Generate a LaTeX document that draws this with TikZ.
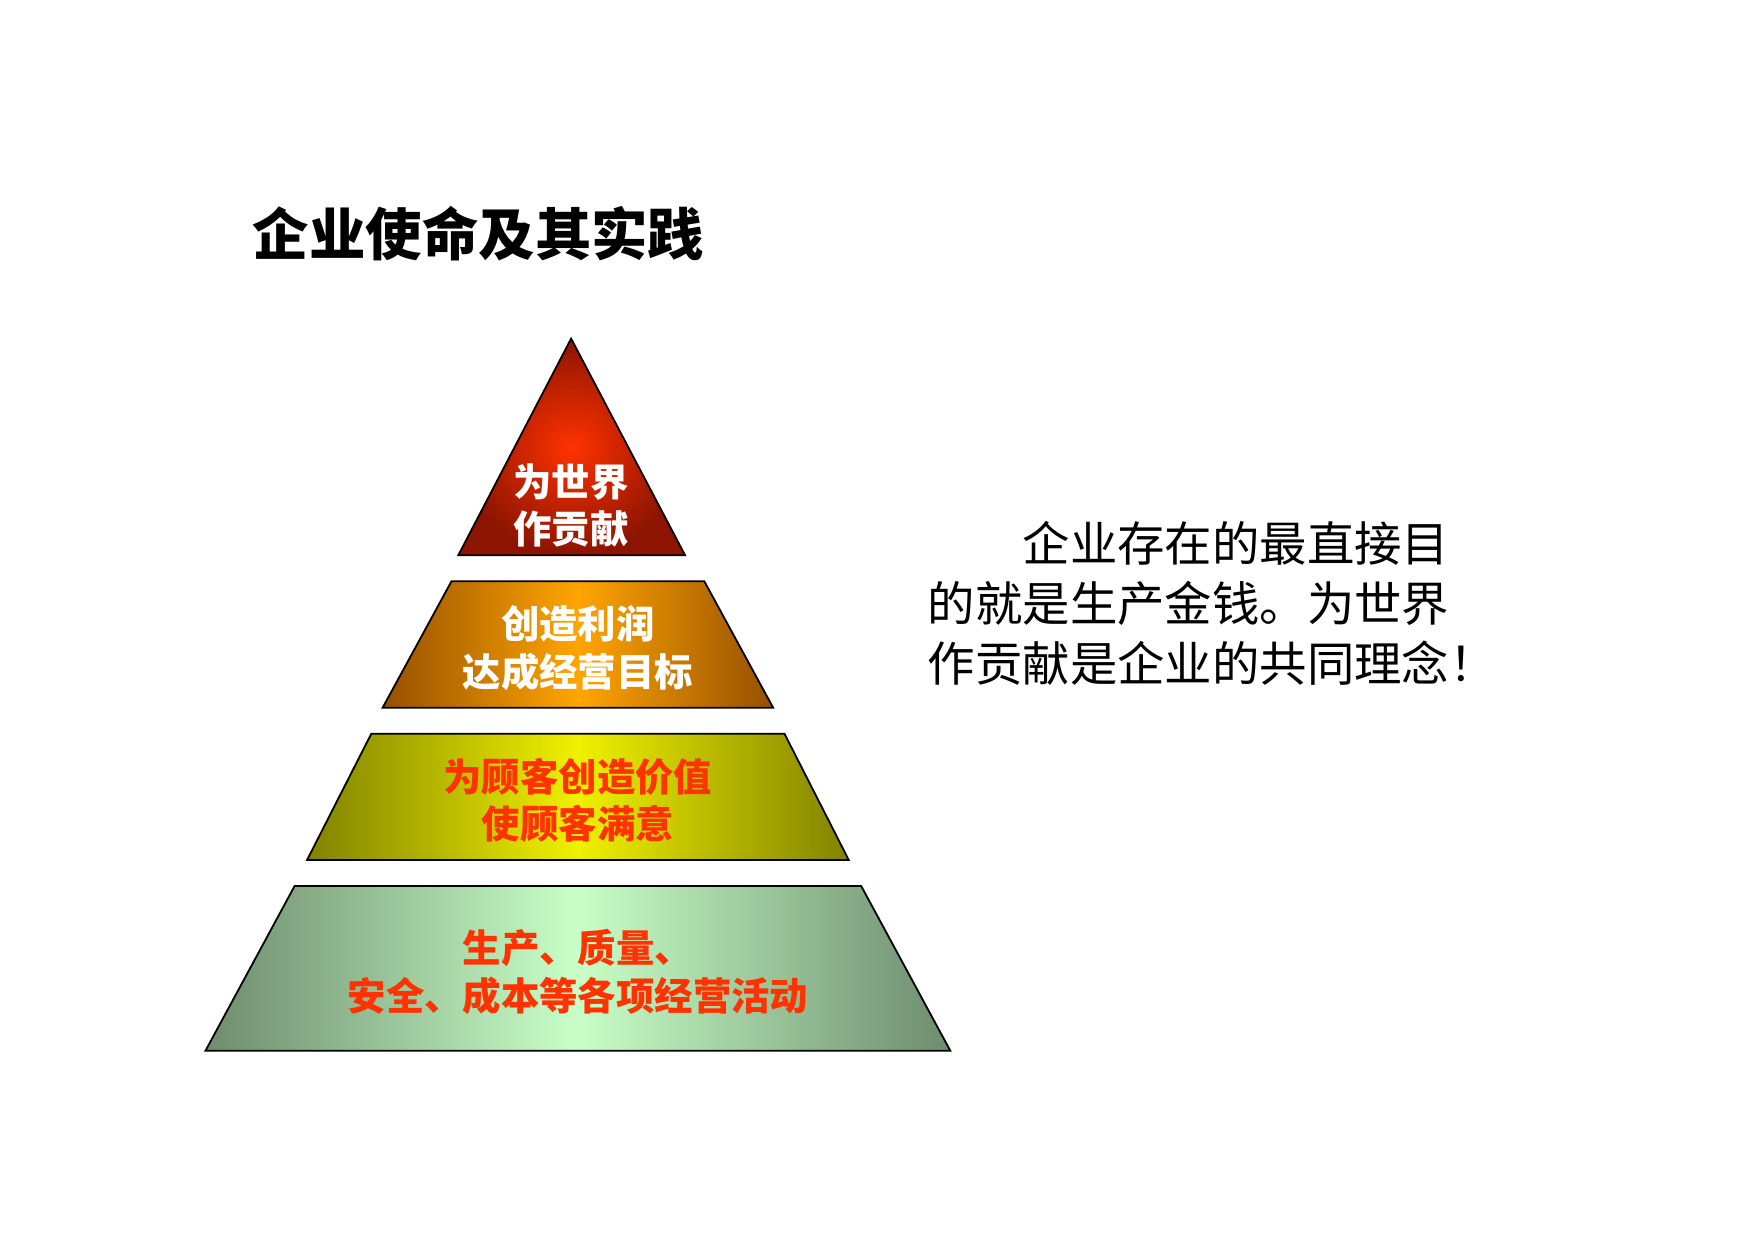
\documentclass[tikz,border=0pt]{standalone}
\usepackage{fontspec}
\newfontfamily\cjk{Noto Sans CJK SC}
\begin{document}
\begin{tikzpicture}[x=0.5pt,y=-0.5pt,
  tier/.style={draw=black,line width=0.8pt},
  wtxt/.style={font=\cjk\bfseries\fontsize{17}{21}\selectfont,text=white,align=center},
  rtxt/.style={font=\cjk\bfseries\fontsize{17}{21}\selectfont,text={rgb,255:red,255;green,50;blue,0},align=center}]
\useasboundingbox (0,0) rectangle (1554,1100);
\definecolor{dred}{RGB}{140,20,0}\definecolor{bred}{RGB}{255,50,0}
\definecolor{dor}{RGB}{150,80,0}\definecolor{bor}{RGB}{255,165,0}
\definecolor{dyl}{RGB}{130,130,0}\definecolor{byl}{RGB}{240,240,0}
\definecolor{dgr}{RGB}{110,140,110}\definecolor{bgr}{RGB}{200,255,200}
\path[tier,inner color=bred,outer color=dred] (506,300) -- (607,492) -- (406,492) -- cycle;
\path[tier,left color=dor,right color=dor,middle color=bor] (400,515) -- (624,515) -- (685,627) -- (339,627) -- cycle;
\path[tier,left color=dyl,right color=dyl,middle color=byl] (329,650) -- (695,650) -- (752,762) -- (272,762) -- cycle;
\path[tier,left color=dgr,right color=dgr,middle color=bgr] (261,785) -- (763,785) -- (842,931) -- (182,931) -- cycle;
\node[wtxt] (t1) at (506,448) {为世界\\作贡献};
\node[wtxt] (t2) at (512,574) {创造利润\\达成经营目标};
\node[rtxt] (t3) at (512,709) {为顾客创造价值\\使顾客满意};
\node[rtxt] (t4) at (512,861) {生产、质量、\\安全、成本等各项经营活动};
\node[font=\cjk\bfseries\fontsize{25}{30}\selectfont,anchor=west] (title) at (217,207) {企业使命及其实践};
\node[font=\cjk\fontsize{21}{26.5}\selectfont,anchor=north west,align=left] (side) at (815,455)
 {\hspace{2em}企业存在的最直接目\\的就是生产金钱。为世界\\作贡献是企业的共同理念！};
\end{tikzpicture}
\end{document}
